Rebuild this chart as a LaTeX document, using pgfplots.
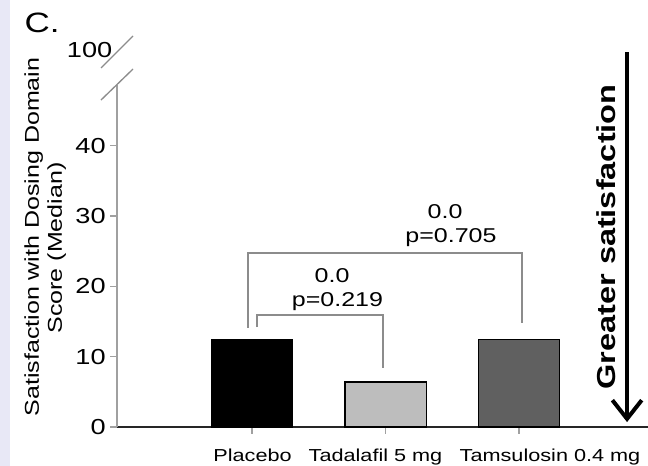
\documentclass[border=0pt]{standalone}
\usepackage{pgfplots}
\pgfplotsset{compat=1.18}
\usepackage{fontspec}
\setmainfont{Liberation Sans}[FakeStretch=1.25]
\usetikzlibrary{arrows.meta}
\definecolor{brk}{HTML}{8C8C8C}
\definecolor{axg}{HTML}{A0A0A0}
\definecolor{lav}{HTML}{E8E8F6}
\definecolor{lgray}{HTML}{BDBDBD}
\definecolor{dgray}{HTML}{606060}
\begin{document}
\begin{tikzpicture}
\useasboundingbox (-87.75pt,-29.25pt) rectangle (398.25pt,320.25pt);
\fill[lav] (-87.75pt,-29.25pt) rectangle (-80.25pt,320.25pt);
\begin{axis}[
  at={(0pt,0pt)}, anchor=south west,
  scale only axis, width=398.25pt, height=320.25pt,
  xmin=-1.011, xmax=2.966, ymin=0, ymax=60.74,
  axis x line*=bottom, axis y line*=left,
  axis line style={-},
  y axis line style={draw=none},
  x axis line style={line width=1.2pt, draw=black!85},
  xtick={0,1,2},
  xticklabels={},
  extra x ticks={0.004,0.925,2.232},
  extra x tick labels={Placebo, Tadalafil 5 mg, Tamsulosin 0.4 mg},
  extra x tick style={major tick length=0pt, xticklabel style={anchor=base, yshift=-26pt}},
  ytick={0,10,20,30,40},
  extra y ticks={53.6}, extra y tick labels={100},
  extra y tick style={major tick length=0pt},
  tick align=outside, major tick length=5pt,
  tick style={draw=axg, line width=1pt},
  /pgf/number format/assume math mode=true,
  yticklabel style={font=\fontsize{16.3}{18}\selectfont},
  xticklabel style={font=\fontsize{13}{15}\selectfont},
  clip=false,
]
\addplot[ybar, bar width=0.607, bar shift=0pt, fill=black, draw=black, line width=0.8pt] coordinates {(0,12.5)};
\addplot[ybar, bar width=0.607, bar shift=0pt, fill=lgray, draw=black, line width=0.8pt] coordinates {(1,6.4)};
\addplot[ybar, bar width=0.607, bar shift=0pt, fill=dgray, draw=black, line width=0.8pt] coordinates {(2,12.5)};

\draw[axg, line width=1.3pt] (axis cs:-1.011,0) -- (axis cs:-1.011,48.6);
\draw[brk, line width=1pt] (axis cs:-1.131,51.07) -- (axis cs:-0.891,55.62);
\draw[brk, line width=1pt] (axis cs:-1.131,46.51) -- (axis cs:-0.891,50.92);

\draw[brk, line width=1.1pt] (axis cs:0.037,14.2) |- (axis cs:0.981,15.9) -- (axis cs:0.981,8.4);
\draw[brk, line width=1.1pt] (axis cs:-0.03,14.1) |- (axis cs:2.022,24.75) -- (axis cs:2.022,14.8);

\node[font=\fontsize{15}{18}\selectfont] at (axis cs:0.6,21.6) {0.0};
\node[font=\fontsize{15}{18}\selectfont] at (axis cs:0.64,17.8) {p=0.219};
\node[font=\fontsize{15}{18}\selectfont] at (axis cs:1.446,30.6) {0.0};
\node[font=\fontsize{15}{18}\selectfont] at (axis cs:1.49,26.9) {p=0.705};

\draw[black, line width=3pt, -{Straight Barb[length=14pt, width=22pt, line width=3pt]}] (axis cs:2.809,53.3) -- (axis cs:2.809,0.7);
\node[rotate=90, anchor=base, font=\bfseries\fontsize{19.5}{24}\selectfont] at (axis cs:2.719,27.03) {Greater satisfaction};

\node[rotate=90, anchor=base, font=\fontsize{15}{18}\selectfont] at (axis cs:-1.596,27.03) {Satisfaction with Dosing Domain};
\node[rotate=90, anchor=base, font=\fontsize{15}{18}\selectfont] at (axis cs:-1.423,25.46) {Score (Median)};
\node[anchor=base west, font=\fontsize{21}{24}\selectfont] at (axis cs:-1.738,56.05) {C.};
\end{axis}
\end{tikzpicture}
\end{document}
